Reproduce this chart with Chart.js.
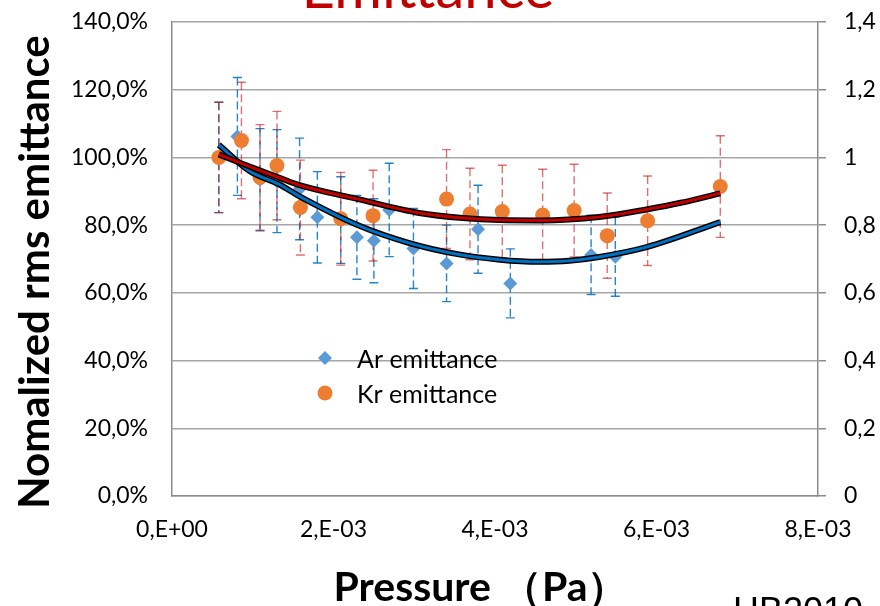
<!DOCTYPE html>
<html>
<head>
<meta charset="utf-8">
<script src="https://cdn.jsdelivr.net/npm/chart.js@4"></script>
<style>
  html, body { margin: 0; padding: 0; background: #fff; }
</style>
</head>
<body>
<canvas id="emittance" width="880" height="606"></canvas>
<script>
// measured points (pressure in Pa, emittance in % of first point)
const arPressure = [0.00058, 0.00081, 0.00109, 0.00130, 0.00158, 0.00180, 0.00209, 0.00229,
  0.00250, 0.00269, 0.00299, 0.00340, 0.00379, 0.00419, 0.00519, 0.00549];
const arEmittance = [100, 106.2, 93.4, 93.0, 90.7, 82.3, 81.5, 76.4,
  75.4, 84.5, 73.1, 68.7, 78.8, 62.8, 71.2, 70.7];
const arError = [16.3, 17.4, 15.1, 15.2, 15.0, 13.5, 12.8, 12.4,
  12.4, 13.8, 11.8, 11.3, 13.0, 10.2, 11.7, 11.7];

const krPressure = [0.00058, 0.00086, 0.00109, 0.00130, 0.00159, 0.00209, 0.00249, 0.00340,
  0.00369, 0.00409, 0.00459, 0.00498, 0.00539, 0.00589, 0.00679];
const krEmittance = [100, 105.0, 94.1, 97.6, 85.2, 81.9, 82.8, 87.7,
  83.3, 84.0, 83.0, 84.3, 76.9, 81.3, 91.4];
const krError = [16.3, 17.2, 15.6, 16.0, 14.0, 13.7, 13.4, 14.6,
  13.5, 13.7, 13.5, 13.7, 12.6, 13.2, 15.0];

// trendlines
const arFitPressure = [0.00058, 0.00096, 0.00133, 0.00158, 0.00232, 0.00294, 0.00352, 0.00406,
  0.00455, 0.00492, 0.00529, 0.00589, 0.00679];
const arFitEmittance = [103.7, 96.0, 92.0, 88.5, 79.8, 74.7, 71.5, 69.8,
  69.2, 69.5, 70.6, 73.6, 80.9];
const krFitPressure = [0.00058, 0.00096, 0.00133, 0.00158, 0.00232, 0.00306, 0.00360, 0.00406,
  0.00455, 0.00529, 0.00589, 0.00630, 0.00679];
const krFitEmittance = [100.9, 97.3, 94.0, 91.8, 87.6, 83.6, 82.1, 81.5,
  81.4, 82.4, 84.7, 86.6, 89.4];

const xTickLabels = ['0,E+00', '2,E-03', '4,E-03', '6,E-03', '8,E-03'];
const yTickLabels = ['0,0%', '20,0%', '40,0%', '60,0%', '80,0%', '100,0%', '120,0%', '140,0%'];
const y2TickLabels = ['0', '0,2', '0,4', '0,6', '0,8', '1', '1,2', '1,4'];

const FONT = 'Lato, "Noto Sans", sans-serif';
const GRID = '#a6a6a6';
const AXIS = '#8c8c8c';

const pts = (xs, ys) => xs.map((x, i) => ({ x: x, y: ys[i] }));

const errorBars = {
  id: 'errorBars',
  beforeDatasetsDraw(chart) {
    const { ctx, scales: { x, y } } = chart;
    const draw = (xs, ys, es, color) => {
      ctx.save();
      ctx.strokeStyle = color;
      ctx.lineWidth = 1.4;
      xs.forEach((p, i) => {
        const px = x.getPixelForValue(p);
        const top = y.getPixelForValue(ys[i] + es[i]);
        const bot = y.getPixelForValue(ys[i] - es[i]);
        ctx.setLineDash([8, 4]);
        ctx.beginPath();
        ctx.moveTo(px, top);
        ctx.lineTo(px, bot);
        ctx.stroke();
        ctx.setLineDash([]);
        ctx.beginPath();
        ctx.moveTo(px - 4.5, top);
        ctx.lineTo(px + 4.5, top);
        ctx.moveTo(px - 4.5, bot);
        ctx.lineTo(px + 4.5, bot);
        ctx.stroke();
      });
      ctx.restore();
    };
    draw(arPressure, arEmittance, arError, 'rgba(0,112,192,0.85)');
    draw(krPressure, krEmittance, krError, 'rgba(200,20,20,0.6)');
  }
};

const decorations = {
  id: 'decorations',
  afterDraw(chart) {
    const ctx = chart.ctx;
    ctx.save();
    // chart title, cut at the top edge
    ctx.fillStyle = '#c00000';
    ctx.font = '58px ' + FONT;
    ctx.textAlign = 'center';
    ctx.textBaseline = 'alphabetic';
    ctx.fillText('Emittance', 428, 8);

    // axis titles
    ctx.fillStyle = '#000';
    ctx.font = 'bold 41px ' + FONT;
    ctx.fillText('Pressure （Pa）', 481, 601);
    ctx.save();
    ctx.translate(49, 272);
    ctx.rotate(-Math.PI / 2);
    ctx.font = 'bold 42px ' + FONT;
    ctx.fillText('Nomalized rms emittance', 0, 0);
    ctx.restore();

    // footer tag, cut at the bottom edge
    ctx.textAlign = 'left';
    ctx.font = '36px "Liberation Sans", Arial, sans-serif';
    ctx.fillText('HB2010', 733, 623);

    // legend inside the plot
    const ds = chart.data.datasets;
    ctx.font = '25px ' + FONT;
    ctx.fillStyle = ds[4].backgroundColor;
    ctx.beginPath();
    ctx.moveTo(325, 351); ctx.lineTo(332, 358); ctx.lineTo(325, 365); ctx.lineTo(318, 358);
    ctx.closePath();
    ctx.fill();
    ctx.fillStyle = ds[5].backgroundColor;
    ctx.beginPath();
    ctx.arc(325, 393, 7.5, 0, Math.PI * 2);
    ctx.fill();
    ctx.fillStyle = '#000';
    ctx.fillText('Ar emittance', 357, 368);
    ctx.fillText('Kr emittance', 357, 403);
    ctx.restore();
  }
};

const fitLine = (label, data, color, width, order) => ({
  type: 'line', label: label, data: data, borderColor: color, borderWidth: width,
  pointRadius: 0, cubicInterpolationMode: 'monotone', order: order
});

// fixed axis sizes so the plot area sits where it does in the original
const fixWidth = (w) => (s) => { s.width = w; s.paddingTop = 0; s.paddingBottom = 0; };

new Chart(document.getElementById('emittance'), {
  type: 'scatter',
  data: {
    datasets: [
      fitLine('Kr fit', pts(krFitPressure, krFitEmittance), '#c00000', 3, 0),
      fitLine('Kr fit edge', pts(krFitPressure, krFitEmittance), '#000', 6, 1),
      fitLine('Ar fit', pts(arFitPressure, arFitEmittance), '#0070c0', 3, 2),
      fitLine('Ar fit edge', pts(arFitPressure, arFitEmittance), '#000', 6, 3),
      { label: 'Ar emittance', data: pts(arPressure, arEmittance), backgroundColor: '#5b9bd5',
        borderWidth: 0, pointStyle: 'rectRot', pointRadius: 7, order: 5 },
      { label: 'Kr emittance', data: pts(krPressure, krEmittance), backgroundColor: '#ed7d31',
        borderWidth: 0, pointStyle: 'circle', pointRadius: 7.5, order: 4 }
    ]
  },
  options: {
    responsive: false,
    animation: false,
    layout: { padding: { top: 22, left: 0, right: 0, bottom: 0 } },
    plugins: { legend: { display: false }, tooltip: { enabled: false } },
    scales: {
      x: {
        type: 'linear', min: 0, max: 0.008,
        afterFit: (s) => { s.height = 110; },
        ticks: { stepSize: 0.002, autoSkip: false, maxRotation: 0, padding: 20,
          color: '#000', font: { family: FONT, size: 23 },
          callback: (v, i) => xTickLabels[i] },
        grid: { display: false, drawTicks: false },
        border: { display: true, color: AXIS, width: 1.5 }
      },
      y: {
        min: 0, max: 140,
        afterFit: fixWidth(172),
        ticks: { stepSize: 20, padding: 24, color: '#000', font: { family: FONT, size: 23 },
          callback: (v, i) => yTickLabels[i] },
        grid: { color: GRID, lineWidth: 1.5, drawTicks: false },
        border: { display: true, color: AXIS, width: 1.5 }
      },
      y2: {
        position: 'right', min: 0, max: 1.4,
        afterFit: fixWidth(62),
        ticks: { stepSize: 0.2, padding: 18, color: '#000', font: { family: FONT, size: 23 },
          callback: (v, i) => y2TickLabels[i] },
        grid: { drawOnChartArea: false, drawTicks: true, tickLength: 8, color: AXIS, lineWidth: 1.5 },
        border: { display: true, color: AXIS, width: 1.5 }
      }
    }
  },
  plugins: [errorBars, decorations]
});
</script>
</body>
</html>
